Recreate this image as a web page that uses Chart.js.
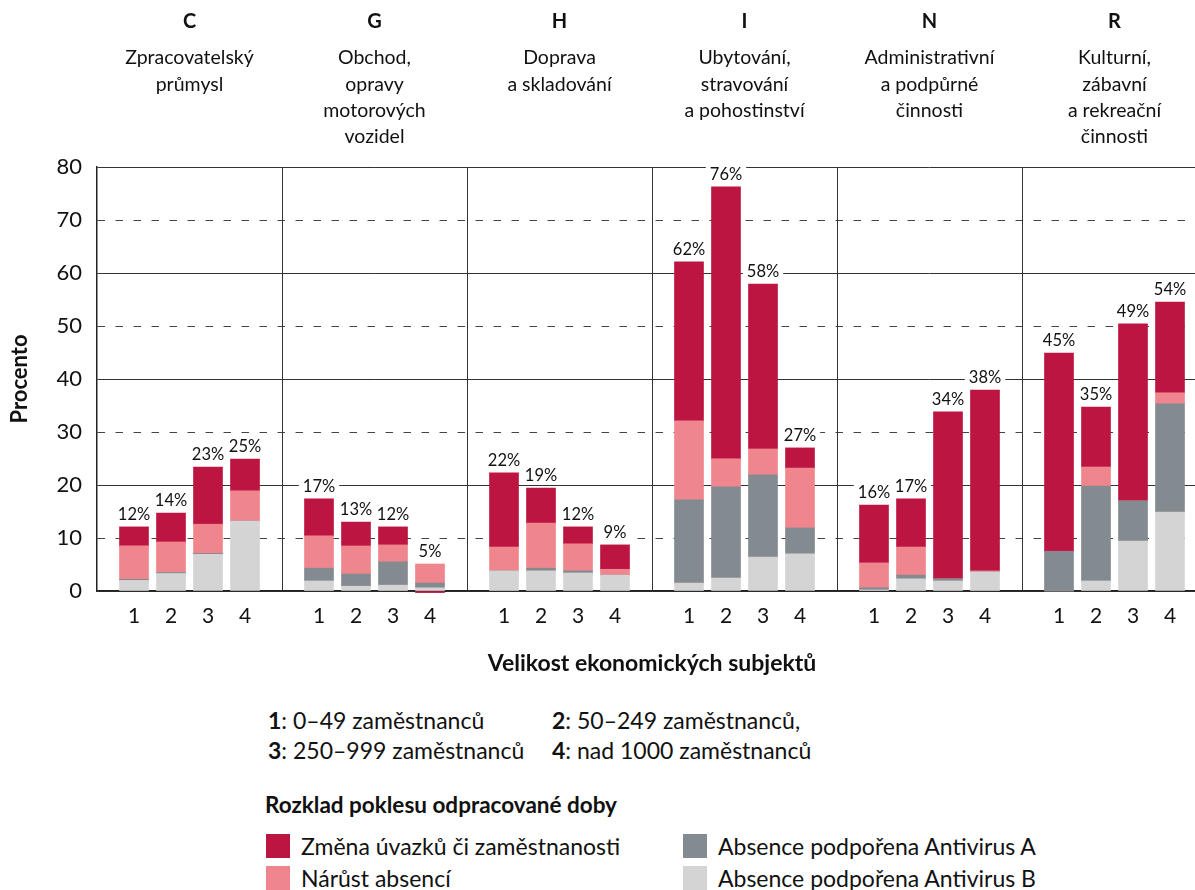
<!DOCTYPE html>
<html lang="cs">
<head>
<meta charset="utf-8">
<script src="https://cdn.jsdelivr.net/npm/chart.js@4.4.1/dist/chart.umd.min.js"></script>
<style>
  body { margin: 0; width: 1195px; height: 890px; overflow: hidden; background: #fff; font-family: Lato, sans-serif; color: #111; }
  #chart { position: absolute; left: 0; top: 0; }
  .txt { position: absolute; font-size: 23px; line-height: 28px; white-space: nowrap; }
  .sw { position: absolute; width: 24px; height: 24px; }
</style>
</head>
<body>
<canvas id="chart" width="1210" height="700"></canvas>
<div id="legend"></div>
<script>
'use strict';
// categories
let sectors = ['C', 'G', 'H', 'I', 'N', 'R'];
let sectorNames = [
  ['Zpracovatelský', 'průmysl'],
  ['Obchod,', 'opravy', 'motorových', 'vozidel'],
  ['Doprava', 'a skladování'],
  ['Ubytování,', 'stravování', 'a pohostinství'],
  ['Administrativní', 'a podpůrné', 'činnosti'],
  ['Kulturní,', 'zábavní', 'a rekreační', 'činnosti']
];
let sizes = ['1', '2', '3', '4'];
let sizeNames = ['0–49 zaměstnanců', '50–249 zaměstnanců,', '250–999 zaměstnanců', 'nad 1000 zaměstnanců'];
let yTicks = [0, 10, 20, 30, 40, 50, 60, 70, 80];

// series values, order: C1..C4, G1..G4, H1..H4, I1..I4, N1..N4, R1..R4
let antivirusB = [2.0, 3.3, 6.9, 13.2, 1.9, 0.9, 1.1, 0.6, 3.8, 3.8, 3.4, 3.0, 1.5, 2.45, 6.4, 7.0, 0.2, 2.3, 1.9, 3.6, 0, 1.9, 9.4, 14.9];
let antivirusA = [0.2, 0.2, 0.2, 0, 2.4, 2.3, 4.4, 0.9, 0, 0.5, 0.4, 0, 15.7, 17.2, 15.5, 4.9, 0.4, 0.7, 0.4, 0, 7.5, 17.9, 7.6, 20.4];
let absences = [6.3, 5.75, 5.5, 5.7, 6.1, 5.3, 3.2, 3.6, 4.5, 8.5, 5.1, 1.1, 14.9, 5.3, 4.9, 11.3, 4.7, 5.3, 0, 0.2, 0, 3.6, 0, 2.1];
let jobChange = [3.6, 5.45, 10.8, 6.0, 7.0, 4.5, 3.4, -0.3, 14.0, 6.6, 3.2, 4.6, 30.0, 51.3, 31.1, 3.8, 10.9, 9.1, 31.5, 34.1, 37.4, 11.3, 33.4, 17.1];
let totals = [12, 14, 23, 25, 17, 13, 12, 5, 22, 19, 12, 9, 62, 76, 58, 27, 16, 17, 34, 38, 45, 35, 49, 54];

let seriesNames = ['Změna úvazků či zaměstnanosti', 'Nárůst absencí', 'Absence podpořena Antivirus A', 'Absence podpořena Antivirus B'];
let colors = ['#BD1541', '#F0868D', '#838A90', '#D3D4D3'];

// bar positions: each sector takes 5 units, bars at 1..4
let positions = [];
sectors.forEach((s, i) => sizes.forEach((z, j) => positions.push(i * 5 + j + 1)));
function points(values) {
  return values.map((v, k) => ({ x: positions[k], y: v }));
}

const FONT = 'Lato';

const dividers = {
  id: 'dividers',
  beforeDatasetsDraw(chart) {
    const { ctx, chartArea, scales: { x } } = chart;
    ctx.save();
    ctx.strokeStyle = '#333';
    ctx.lineWidth = 1;
    for (let i = 1; i <= sectors.length; i++) {
      const px = Math.round(x.getPixelForValue(i * 5)) + 0.5;
      ctx.beginPath();
      ctx.moveTo(px, chartArea.top);
      ctx.lineTo(px, chartArea.bottom);
      ctx.stroke();
    }
    ctx.restore();
  }
};

const labels = {
  id: 'labels',
  afterDatasetsDraw(chart) {
    const { ctx, scales: { x, y } } = chart;
    ctx.save();
    ctx.font = '16.5px ' + FONT;
    ctx.textAlign = 'center';
    ctx.textBaseline = 'alphabetic';
    positions.forEach((pos, k) => {
      let top = 0;
      [antivirusB, antivirusA, absences, jobChange].forEach(arr => { if (arr[k] > 0) top += arr[k]; });
      const cx = x.getPixelForValue(pos);
      const py = y.getPixelForValue(top) - 7;
      const text = totals[k] + '%';
      const w = ctx.measureText(text).width;
      ctx.fillStyle = '#fff';
      ctx.fillRect(cx - w / 2 - 4, py - 15, w + 8, 18);
      ctx.fillStyle = '#111';
      ctx.fillText(text, cx, py);
    });
    // sector headings
    ctx.textBaseline = 'middle';
    sectors.forEach((s, i) => {
      const cx = x.getPixelForValue(i * 5 + 2.5);
      ctx.font = 'bold 20px ' + FONT;
      ctx.fillText(s, cx, 22);
      ctx.font = '19.5px ' + FONT;
      sectorNames[i].forEach((line, l) => ctx.fillText(line, cx, 58 + l * 26.3));
    });
    ctx.restore();
  }
};

let chartEl = document.getElementById('chart').getContext('2d');
let chart = new Chart(chartEl, {
  type: 'bar',
  data: {
    datasets: [
      { label: seriesNames[3], data: points(antivirusB), backgroundColor: colors[3] },
      { label: seriesNames[2], data: points(antivirusA), backgroundColor: colors[2] },
      { label: seriesNames[1], data: points(absences), backgroundColor: colors[1] },
      { label: seriesNames[0], data: points(jobChange), backgroundColor: colors[0] }
    ].map(d => Object.assign(d, { barThickness: 29, borderWidth: 0, clip: false }))
  },
  options: {
    responsive: false,
    animation: false,
    devicePixelRatio: 1,
    layout: { padding: { top: 167, right: 3, left: 0, bottom: 0 } },
    plugins: { legend: { display: false }, tooltip: { enabled: false } },
    scales: {
      x: {
        type: 'linear',
        stacked: true,
        min: 0,
        max: 30,
        offset: false,
        afterBuildTicks: s => { s.ticks = positions.map(v => ({ value: v })); },
        afterFit: s => { s.height = 109; },
        ticks: {
          autoSkip: false,
          maxRotation: 0,
          padding: 13,
          color: '#111',
          font: { family: FONT, size: 21 },
          callback: v => sizes[(v % 5) - 1]
        },
        grid: { display: false, drawTicks: false },
        border: { display: true, color: '#222', width: 1.5 },
        title: {
          display: true,
          text: 'Velikost ekonomických subjektů',
          color: '#111',
          font: { family: FONT, size: 23, weight: 'bold' },
          padding: { top: 0, bottom: 23 }
        }
      },
      y: {
        stacked: true,
        min: 0,
        max: 80,
        afterBuildTicks: s => { s.ticks = yTicks.map(v => ({ value: v })); },
        afterFit: s => { s.width = 97; },
        ticks: { padding: 15, color: '#111', font: { family: FONT, size: 22 } },
        grid: {
          drawTicks: false,
          lineWidth: 1,
          color: c => (c.tick && c.tick.value % 20 === 10) ? '#444' : '#333'
        },
        border: {
          display: true,
          color: '#222',
          width: 1.5,
          dash: c => (c.tick && c.tick.value % 20 === 10) ? [7.5, 10.5] : []
        },
        title: {
          display: true,
          text: 'Procento',
          color: '#111',
          font: { family: FONT, size: 22, weight: 'bold' },
          padding: { top: 7, bottom: 0 }
        }
      }
    }
  },
  plugins: [dividers, labels]
});

// legend below the chart
let legendEl = document.getElementById('legend');
function addText(html, left, cy, bold) {
  let el = document.createElement('div');
  el.className = 'txt';
  el.style.left = left + 'px';
  el.style.top = (cy - 14) + 'px';
  if (bold) { el.style.fontWeight = 'bold'; el.style.fontSize = '22.5px'; }
  el.innerHTML = html;
  legendEl.appendChild(el);
}
sizeNames.forEach((n, i) => {
  addText('<b>' + sizes[i] + '</b>: ' + n, i % 2 ? 552 : 268, i < 2 ? 720 : 750);
});
addText('Rozklad poklesu odpracované doby', 265, 805, true);
seriesNames.forEach((n, i) => {
  let left = i < 2 ? 266 : 683;
  let cy = i % 2 ? 878 : 846;
  let sw = document.createElement('div');
  sw.className = 'sw';
  sw.style.left = left + 'px';
  sw.style.top = (cy - 12) + 'px';
  sw.style.background = colors[i];
  legendEl.appendChild(sw);
  addText(n, left + 35, cy);
});
</script>
</body>
</html>
